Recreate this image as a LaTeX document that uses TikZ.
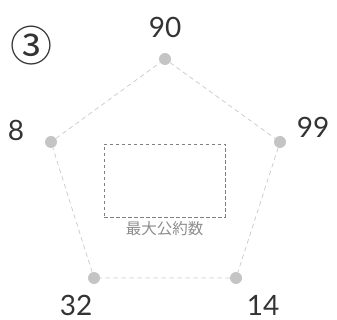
\documentclass[tikz,border=0pt]{standalone}
\usepackage{fontspec}
\setmainfont{Lato}
\newfontfamily\cjk{Noto Sans CJK JP}
\usetikzlibrary{positioning}
\definecolor{dotgray}{HTML}{C4C4C4}
\definecolor{linegray}{HTML}{C8C8C8}
\definecolor{boxgray}{HTML}{808080}
\definecolor{numgray}{HTML}{333333}
\tikzset{
  dot/.style={circle, fill=dotgray, inner sep=0pt, minimum size=12pt},
  num/.style={text=numgray, inner sep=0pt, font=\fontsize{28}{28}\selectfont},
  edge/.style={draw=linegray, line width=0.7pt, dash pattern=on 4.5pt off 3.5pt},
}
\begin{document}
\begin{tikzpicture}[x=1pt, y=-1pt]
\useasboundingbox (0,0) rectangle (337,320);
%\draw[help lines, step=20] (0,0) grid (337,320);

\node [text=numgray, inner sep=0pt, font=\cjk\fontsize{42}{42}\selectfont] (mark) at (31,46) {③};

% vertices of the pentagon
\node [dot] (top) at (165,59) {};
\node [dot] (left) at (51,142) {};
\node [dot] (right) at (280,142) {};
\node [dot] (bl) at (94,278) {};
\node [dot] (br) at (236,278) {};

\draw [edge] (top) -- (right) -- (br) -- (bl) -- (left) -- (top);

\node [num] (n90) at (165,27) {90};
\node [num] (n8) at (16,130) {8};
\node [num] (n99) at (313,127) {99};
\node [num] (n32) at (76,305) {32};
\node [num] (n14) at (263,305) {14};

% answer box
\node [draw=boxgray, line width=0.8pt, dash pattern=on 3.5pt off 2.5pt,
  minimum width=121pt, minimum height=73pt] (box) at (164.5,180.5) {};
\node [below=4pt of box, text=boxgray!90, inner sep=0pt,
  font=\cjk\fontsize{15.5}{15.5}\selectfont] (gcd) {最大公約数};
\end{tikzpicture}
\end{document}
